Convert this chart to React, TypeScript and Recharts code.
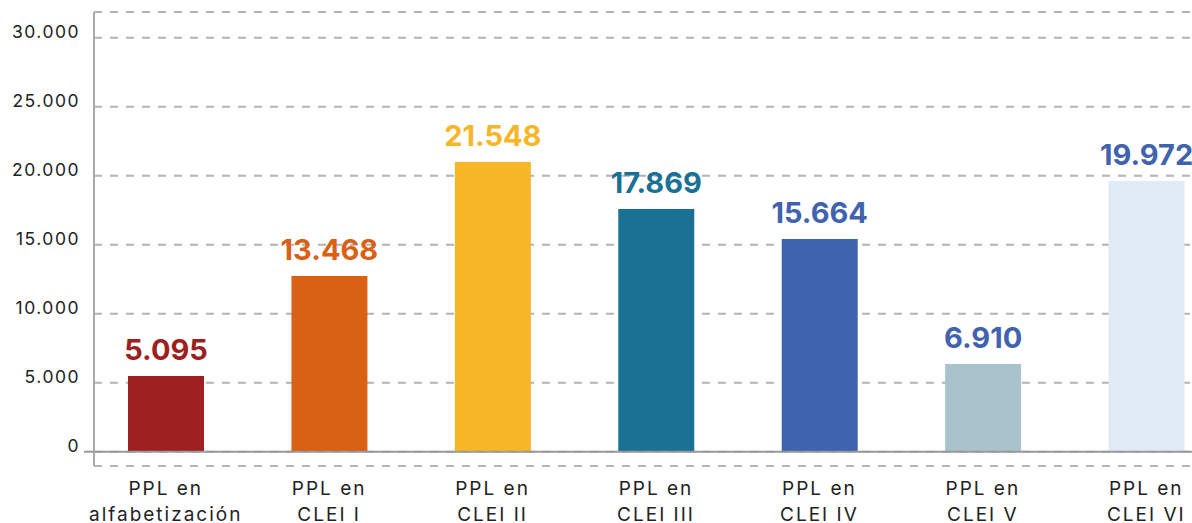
import React from "react";
import {
  BarChart,
  Bar,
  XAxis,
  YAxis,
  CartesianGrid,
  Cell,
  LabelList,
  ReferenceLine,
} from "recharts";

const categories = [
  ["PPL en", "alfabetización"],
  ["PPL en", "CLEI I"],
  ["PPL en", "CLEI II"],
  ["PPL en", "CLEI III"],
  ["PPL en", "CLEI IV"],
  ["PPL en", "CLEI V"],
  ["PPL en", "CLEI VI"],
];

// bar heights as drawn in the picture
const barValues = [5490, 12730, 20990, 17590, 15410, 6360, 19620];
// the numbers printed above the bars
const labelValues = [5095, 13468, 21548, 17869, 15664, 6910, 19972];

const yTicks = [0, 5000, 10000, 15000, 20000, 25000, 30000];

const barColors = ["#9e1f20", "#d96115", "#f7b528", "#1a7194", "#3f63ae", "#a9c3cc", "#e1ebf7"];
const labelColors = ["#9e1f20", "#d96115", "#f7b528", "#1a7194", "#3f63ae", "#3f63ae", "#3f63ae"];

const data = categories.map((c, i) => ({ name: c.join(" "), value: barValues[i], idx: i }));

const FONT = "Inter, 'DejaVu Sans', sans-serif";

function fmt(n: number) {
  return String(n).replace(/\B(?=(\d{3})+(?!\d))/g, ".");
}

function YTick(props: any) {
  const { x, y, payload } = props;
  return (
    <g>
      {payload.value === 0 && <line x1={x + 4} x2={x + 14} y1={y} y2={y} stroke="#999" strokeWidth={2} />}
      <text x={x} y={y} textAnchor="end" fill="#222" fontSize={17.5} fontFamily={FONT} letterSpacing={1.5}>
        {fmt(payload.value)}
      </text>
    </g>
  );
}

function XTick(props: any) {
  const { x, payload } = props;
  const lines = categories[payload.index] || [];
  return (
    <text x={x} textAnchor="middle" fill="#222" fontSize={19} fontFamily={FONT} letterSpacing={2}>
      <tspan x={x} y={495}>{lines[0]}</tspan>
      <tspan x={x} y={521}>{lines[1]}</tspan>
    </text>
  );
}

function ValueLabel(props: any) {
  const { x, y, width, index } = props;
  return (
    <text
      x={x + width / 2}
      y={y - 16}
      textAnchor="middle"
      fill={labelColors[index]}
      fontSize={29}
      fontWeight={700}
      fontFamily={FONT}
    >
      {fmt(labelValues[index])}
    </text>
  );
}

export default function App() {
  return (
    <div style={{ position: "absolute", left: 0, top: 0, background: "#fff" }}>
      <BarChart width={1192} height={523} data={data} margin={{ top: 12, right: 0, bottom: 0, left: 0 }}>
        <CartesianGrid vertical={false} stroke="#b3b3b3" strokeDasharray="8 8" strokeWidth={2} />
        <XAxis
          dataKey="name"
          height={57}
          axisLine={false}
          tickLine={false}
          interval={0}
          padding={{ left: -10, right: -36 }}
          tick={<XTick />}
        />
        <YAxis
          width={94}
          domain={[-1036, 31862]}
          ticks={yTicks}
          allowDataOverflow
          axisLine={{ stroke: "#aaa", strokeWidth: 2 }}
          tickLine={false}
          tickSize={0}
          tickMargin={14}
          tick={<YTick />}
        />
        <Bar dataKey="value" barSize={76} isAnimationActive={false}>
          {data.map((d) => (
            <Cell key={d.idx} fill={barColors[d.idx]} />
          ))}
          <LabelList dataKey="value" content={<ValueLabel />} />
        </Bar>
        <ReferenceLine y={0} stroke="#999" strokeWidth={2} />
      </BarChart>
    </div>
  );
}
